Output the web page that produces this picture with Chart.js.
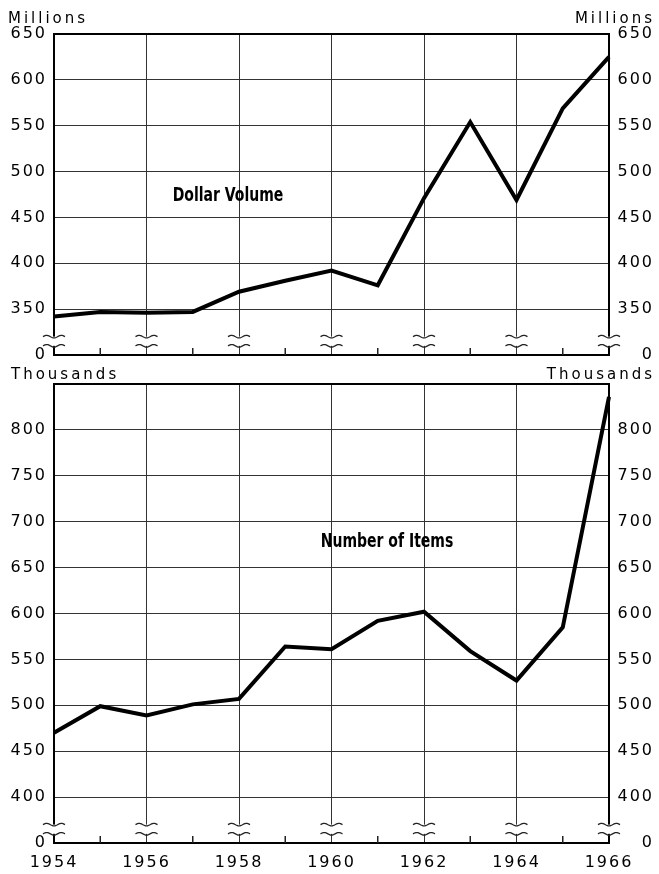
<!DOCTYPE html>
<html>
<head>
<meta charset="utf-8">
<script src="https://cdn.jsdelivr.net/npm/chart.js@4.4.0/dist/chart.umd.min.js"></script>
<style>
  body { margin: 0; background: #fff; }
  #page { position: relative; width: 659px; height: 874px; background: #fff; overflow: hidden; font-family: 'DejaVu Sans', sans-serif; color: #000; }
  canvas { position: absolute; left: 0; }
  .unit { position: absolute; font-size: 15px; letter-spacing: 3px; line-height: 18px; white-space: nowrap; }
  .name { position: absolute; font-family: 'Liberation Sans Narrow', 'DejaVu Sans Condensed', sans-serif; font-weight: bold; font-size: 19px; white-space: nowrap; transform: translate(-50%, -50%) scaleX(0.82); }
</style>
</head>
<body>
<div id="page">
  <canvas id="volumeChart" width="659" height="375" style="top:0"></canvas>
  <canvas id="itemsChart" width="659" height="514" style="top:360px"></canvas>
  <div class="unit" style="left:8px;top:9px">Millions</div>
  <div class="unit" style="right:4px;top:9px">Millions</div>
  <div class="unit" style="left:11px;top:365px">Thousands</div>
  <div class="unit" style="right:4px;top:365px">Thousands</div>
  <div class="name" style="left:228px;top:194px">Dollar Volume</div>
  <div class="name" style="left:387px;top:540px">Number of Items</div>
</div>
<script>
// --- data ---
const years = ['1954', '1955', '1956', '1957', '1958', '1959', '1960',
               '1961', '1962', '1963', '1964', '1965', '1966'];
const dollarVolume = [342, 347, 346, 347, 369, 381, 392, 376, 471, 554, 469, 569, 625];   // millions
const numberOfItems = [470, 499, 489, 501, 507, 564, 561, 592, 602, 559, 527, 585, 836];  // thousands

// broken axes: the bottom step stands for zero
const volumeRange = [300, 650];
const itemsRange = [350, 850];
const tickStep = 50;
const zeroLabel = '0';

const FONT = { family: "'DejaVu Sans', sans-serif", size: 16 };

// little "~" marks where the axes are broken
function squiggle(ctx, cx, cy) {
    ctx.beginPath();
    for (let k = 0; k <= 22; k++) {
        const px = cx - 11 + k;
        const py = cy - 1.3 * Math.sin(k / 22 * Math.PI * 3);
        if (k === 0) ctx.moveTo(px, py); else ctx.lineTo(px, py);
    }
    ctx.stroke();
}

const axisBreaks = {
    id: 'axisBreaks',
    beforeDraw(chart) { chart.ctx.letterSpacing = '2px'; },
    afterDraw(chart) {
        const { ctx, chartArea, scales } = chart;
        const base = scales.y.min;
        const yHigh = scales.y.getPixelForValue(base + 20);
        const yLow = scales.y.getPixelForValue(base + 10);
        ctx.save();
        ctx.strokeStyle = '#222';
        years.forEach((yr, i) => {
            const px = scales.x.getPixelForValue(i);
            if (i % 2 === 1) {
                ctx.lineWidth = 1.5;
                ctx.beginPath();
                ctx.moveTo(px, chartArea.bottom);
                ctx.lineTo(px, chartArea.bottom - 7);
                ctx.stroke();
                return;
            }
            ctx.fillStyle = '#fff';
            ctx.fillRect(px - 2, yHigh, 4, yLow - yHigh);
            ctx.lineWidth = 1.3;
            squiggle(ctx, px, yHigh);
            squiggle(ctx, px, yLow);
        });
        ctx.restore();
        ctx.letterSpacing = '0px';
    }
};

function makeChart(id, values, range, opts) {
    const [min, max] = range;
    const label = (v) => v === min ? zeroLabel : (v === max && !opts.topLabel ? '' : String(v));
    const yTicks = { stepSize: tickStep, color: '#000', font: FONT, callback: label };

    return new Chart(document.getElementById(id), {
        type: 'line',
        data: {
            labels: years,
            datasets: [{
                data: values,
                borderColor: '#000',
                borderWidth: 4,
                pointRadius: 0,
                tension: 0,
                fill: false
            }]
        },
        options: {
            responsive: false,
            animation: false,
            layout: { padding: { top: opts.padTop, left: 0, right: 5, bottom: 0 } },
            plugins: { legend: { display: false }, tooltip: { enabled: false } },
            scales: {
                x: {
                    type: 'category',
                    offset: false,
                    grid: {
                        drawTicks: false,
                        color: (c) => c.index % 2 === 0 ? '#333' : 'rgba(0,0,0,0)',
                        lineWidth: 1
                    },
                    border: { display: true, color: '#000', width: 2 },
                    ticks: {
                        display: opts.xLabels,
                        autoSkip: false,
                        maxRotation: 0,
                        padding: 10,
                        color: '#000',
                        font: FONT,
                        callback: (v, i) => i % 2 === 0 ? years[i] : ''
                    },
                    afterFit: (s) => { s.height = opts.xHeight; }
                },
                y: {
                    position: 'left',
                    min, max,
                    grid: {
                        drawTicks: false,
                        color: (c) => c.tick.value === max ? '#000' : (c.tick.value === min ? 'rgba(0,0,0,0)' : '#333'),
                        lineWidth: (c) => c.tick.value === max ? 2 : 1
                    },
                    border: { display: true, color: '#000', width: 2 },
                    ticks: Object.assign({ padding: 7 }, yTicks),
                    afterFit: (s) => { s.width = 54; }
                },
                y2: {
                    position: 'right',
                    min, max,
                    grid: { drawOnChartArea: false, drawTicks: false },
                    border: { display: true, color: '#000', width: 2 },
                    ticks: Object.assign({ padding: 3, crossAlign: 'far' }, yTicks),
                    afterFit: (s) => { s.width = 45; }
                }
            }
        },
        plugins: [axisBreaks]
    });
}

makeChart('volumeChart', dollarVolume, volumeRange, { padTop: 34, xHeight: 20, xLabels: false, topLabel: true });
makeChart('itemsChart', numberOfItems, itemsRange, { padTop: 24, xHeight: 31, xLabels: true, topLabel: false });
</script>
</body>
</html>
